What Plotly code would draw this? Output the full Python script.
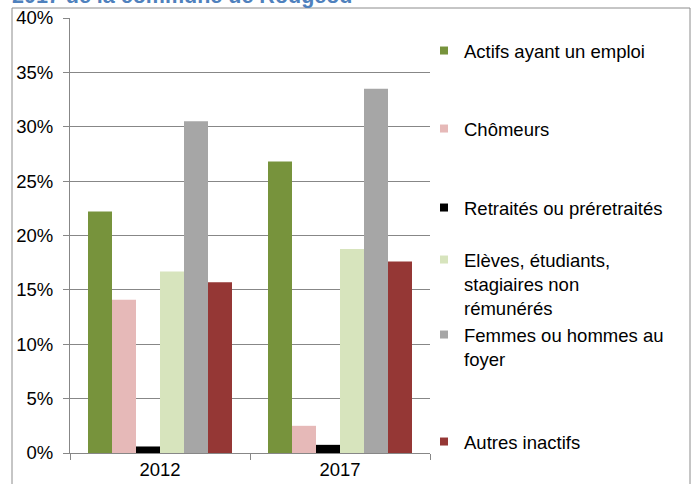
import plotly.graph_objects as go

years = ["2012", "2017"]
series = [
    "Actifs ayant un emploi",
    "Chômeurs",
    "Retraités ou préretraités",
    "Elèves, étudiants,<br>stagiaires non<br>rémunérés",
    "Femmes ou hommes au<br>foyer",
    "Autres inactifs",
]
values = [
    [0.222, 0.268],
    [0.141, 0.025],
    [0.006, 0.0075],
    [0.167, 0.1875],
    [0.305, 0.335],
    [0.157, 0.176],
]
colors = ["#77933C", "#E6B9B8", "#000000", "#D7E4BD", "#A6A6A6", "#953735"]
tick_vals = [0, 0.05, 0.10, 0.15, 0.20, 0.25, 0.30, 0.35, 0.40]
tick_text = ["0%", "5%", "10%", "15%", "20%", "25%", "30%", "35%", "40%"]
title_text = "2017 de la commune de Rougeou"

# plot area pixels
L, R, T, B = 70, 430, 18, 453
W, H = 694, 484
def px_x(p):
    return (p - L) / (R - L)
def px_y(p):
    return (B - p) / (B - T)

legend_centers = [52, 130, 209, 261, 336, 443]

fig = go.Figure()
for i, (name, vals, col) in enumerate(zip(series, values, colors)):
    fig.add_trace(go.Bar(x=years, y=vals, name=name, marker_color=col,
                         marker_line_width=0, showlegend=False))
for i, (name, col) in enumerate(zip(series, colors)):
    lg = "legend" if i == 0 else f"legend{i+1}"
    fig.add_trace(go.Scatter(x=[None], y=[None], mode="markers", name=name,
                             marker=dict(symbol="square", size=8, color=col),
                             legend=lg, showlegend=True))

font = dict(family="Liberation Sans, Arial, sans-serif", size=18.5, color="#000000")
layout_legends = {}
for i, cy in enumerate(legend_centers):
    key = "legend" if i == 0 else f"legend{i+1}"
    layout_legends[key] = dict(x=px_x(424), y=px_y(cy - 20), xanchor="left", yanchor="top",
                               font=font, bgcolor="rgba(0,0,0,0)", valign="top",
                               itemwidth=30, tracegroupgap=0)

fig.update_layout(
    width=W, height=H,
    margin=dict(l=L, r=W - R, t=T, b=H - B, autoexpand=False),
    paper_bgcolor="white", plot_bgcolor="white",
    barmode="group", bargap=0.2, bargroupgap=0,
    font=font,
    **layout_legends,
    xaxis=dict(type="category", showline=True, linecolor="#878787", linewidth=1,
               ticks="outside", tickson="boundaries", ticklen=6, tickcolor="#878787",
               showgrid=False, tickfont=font, automargin=False),
    yaxis=dict(range=[0, 0.40], tickvals=tick_vals, ticktext=tick_text,
               showline=True, linecolor="#878787", linewidth=1,
               ticks="outside", ticklen=6, tickcolor="#878787",
               showgrid=True, gridcolor="#878787", gridwidth=1,
               zeroline=False, tickfont=font, automargin=False,
               ticklabelstandoff=6),
    shapes=[dict(type="rect", xref="paper", yref="paper",
                 x0=px_x(12), x1=px_x(690), y0=px_y(500), y1=px_y(8),
                 line=dict(color="#8C8C8C", width=1), fillcolor="rgba(0,0,0,0)",
                 layer="above")],
    annotations=[dict(text="<b>" + title_text + "</b>", xref="paper", yref="paper",
                      x=px_x(10), y=px_y(10), xanchor="left", yanchor="bottom",
                      showarrow=False,
                      font=dict(family="Liberation Sans, Arial, sans-serif", size=21.5,
                                color="#4F81BD"))],
)

fig.write_html("out.html", config={"displayModeBar": False},
               post_script="document.body.style.margin='0';document.body.style.overflow='hidden';")
